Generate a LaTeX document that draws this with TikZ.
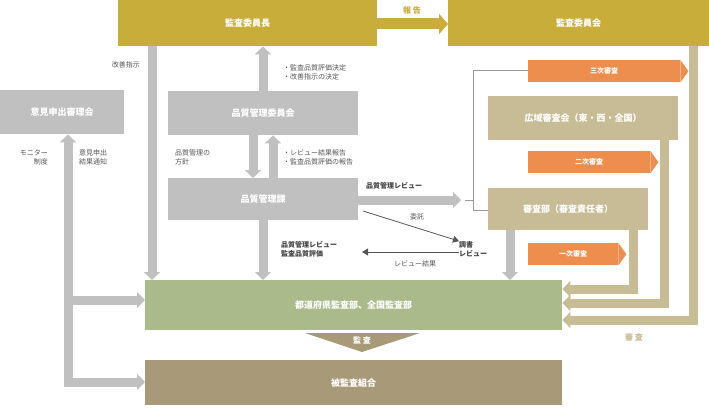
\documentclass[tikz,border=0pt]{standalone}
\usepackage{fontspec}
\setmainfont{Noto Sans CJK JP}
\usetikzlibrary{arrows.meta}
\definecolor{gold}{HTML}{C9AD3B}
\definecolor{gry}{HTML}{C0C0C0}
\definecolor{tan}{HTML}{C8BC96}
\definecolor{grn}{HTML}{ABBA8A}
\definecolor{dtan}{HTML}{A89A78}
\definecolor{org}{HTML}{EE8E4E}
\definecolor{txt}{HTML}{555555}
\begin{document}
\begin{tikzpicture}[x=1pt,y=-1pt,
  box/.style={draw=none,inner sep=0,text=white,font=\bfseries\fontsize{9}{11}\selectfont,anchor=north west},
  lbl/.style={text=txt,font=\fontsize{7}{9}\selectfont,inner sep=0,align=left},
  blbl/.style={text=txt!80!black,font=\bfseries\fontsize{7}{9}\selectfont,inner sep=0,align=left},
  garr/.style={gry,line width=9pt,-{Triangle[width=16pt,length=8pt]}},
  tarr/.style={tan,line width=9pt,-{Triangle[width=16pt,length=8pt]}},
  thin/.style={txt,line width=0.8pt,-{Triangle[width=7pt,length=6pt]}}]
\useasboundingbox (0,0) rectangle (709,409);
\coordinate (c152) at (152,0); \coordinate (c263) at (263,0); \coordinate (c253) at (253,0);
\coordinate (c273) at (273,0); \coordinate (c510) at (510,0); \coordinate (c633) at (633,0);
\coordinate (c664) at (664,0); \coordinate (c693) at (693,0); \coordinate (c68) at (68,0);
\coordinate (y24) at (0,24); \coordinate (y200) at (0,200); \coordinate (y70) at (0,70);
\coordinate (y210) at (0,210); \coordinate (y252) at (0,252); \coordinate (y289) at (0,289);
\coordinate (y303) at (0,303); \coordinate (y320) at (0,320); \coordinate (y300) at (0,300);
\coordinate (y382) at (0,382);
% boxes
\node[box,fill=gold,minimum width=259,minimum height=46] (chair) at (118,0) {監査委員長};
\node[box,fill=gold,minimum width=261,minimum height=46] (comm) at (448,0) {監査委員会};
\node[box,fill=gry,minimum width=124,minimum height=44] (iken) at (0,90) {意見申出審理会};
\node[box,fill=gry,minimum width=190,minimum height=44] (qcc) at (168,91) {品質管理委員会};
\node[box,fill=gry,minimum width=190,minimum height=42] (qcd) at (168,178) {品質管理課};
\node[box,fill=tan,minimum width=190,minimum height=44] (kouiki) at (488,96) {広域審査会（東・西・全国）};
\node[box,fill=tan,minimum width=160,minimum height=42] (shinsa) at (488,188) {審査部（審査責任者）};
\node[box,fill=grn,minimum width=417,minimum height=50] (pref) at (145,280) {都道府県監査部、全国監査部};
\node[box,fill=dtan,minimum width=417,minimum height=45] (hik) at (145,360) {被監査組合};
% orange labels
\foreach \n/\x/\y/\w/\t in {o3/528/60/152/三次審査,o2/528/151/122/二次審査,o1/528/243/90/一次審査}{
  \node[box,fill=org,minimum width=\w,minimum height=22,font=\bfseries\fontsize{7}{9}\selectfont] (\n) at (\x,\y) {\t};
  \fill[org] (\n.north east) -- ([xshift=8]\n.east) -- (\n.south east) -- cycle;}
% 報告
\draw[gold,line width=11pt,-{Triangle[width=20pt,length=9pt]}] (chair.east|-y24) -- (comm.west|-y24);
\node[text=gold,font=\bfseries\fontsize{8}{10}\selectfont] (hk) at (412,10) {報\ 告};
% gray arrows
\draw[garr] (chair.south-|c152) -- (pref.north-|c152);
\node[lbl,anchor=east] (kz) at (140,65) {改善指示};
\draw[garr] (qcc.north-|c263) -- (chair.south-|c263);
\node[lbl,anchor=west] (l1) at (283,72) {・監査品質評価決定\\・改善指示の決定};
\draw[garr] (qcc.south-|c253) -- (qcd.north-|c253);
\draw[garr] (qcd.north-|c273) -- (qcc.south-|c273);
\node[lbl,anchor=west] (l2) at (175,157) {品質管理の\\方針};
\node[lbl,anchor=west] (l3) at (283,157) {・レビュー結果報告\\・監査品質評価の報告};
\draw[garr] (qcd.south-|c263) -- (pref.north-|c263);
\node[blbl,anchor=west] (l4) at (281,249) {品質管理レビュー\\監査品質評価};
\coordinate (rv) at (461,200);
\draw[garr] (qcd.east|-y200) -- (rv);
\node[blbl,anchor=west] (l5) at (366,186) {品質管理レビュー};
% bracket
\draw[gry!80!black,line width=0.8pt] (465,200) -- (473,200);
\draw[gry!80!black,line width=0.8pt] (o3.west|-y70) -- (473,70) -- (473,210) -- (shinsa.west|-y210);
% 委託 / レビュー結果
\node[blbl,anchor=west] (chou) at (459,249) {調書\\レビュー};
\draw[thin] (363,211) -- (chou.north west);
\node[lbl] (it) at (417,217) {委託};
\draw[thin] (chou.west|-y252) -- (362,252);
\node[lbl] (rk) at (415,264) {レビュー結果};
\draw[garr] (shinsa.south-|c510) -- (pref.north-|c510);
% tan arrows
\draw[tarr] (shinsa.south-|c633) -- (633,289) -- (pref.east|-y289);
\draw[tarr] (kouiki.south-|c664) -- (664,303) -- (pref.east|-y303);
\draw[tarr] (comm.south-|c693) -- (693,320) -- (pref.east|-y320);
\node[text=tan,font=\bfseries\fontsize{8}{10}\selectfont] (ss) at (634,337) {審\ 査};
% 監査 arrow
\fill[dtan] (305,333) -- (420,333) -- (362,352) -- cycle;
\node[text=white,font=\bfseries\fontsize{8}{10}\selectfont] (ks) at (362,340) {監\ 査};
% left
\draw[garr] (68,382) -- (iken.south-|c68);
\draw[garr] (68,300) -- (pref.west|-y300);
\draw[garr] (64,382) -- (hik.west|-y382);
\node[lbl,anchor=east,align=right] (mo) at (48,157) {モニター\\制度};
\node[lbl,anchor=west] (ik) at (79,157) {意見申出\\結果通知};
\end{tikzpicture}
\end{document}
